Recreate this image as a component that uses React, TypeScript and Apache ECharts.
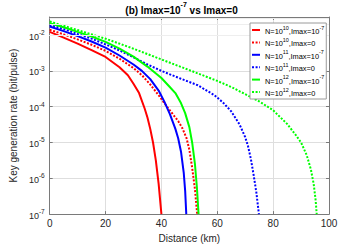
import React, { useEffect, useRef } from 'react';
import * as echarts from 'echarts';

// ---------- data ----------
const xTicks = [0, 20, 40, 60, 80, 100];
const yMin = 1e-7;
const yMax = 0.032;

const seriesNames = [
  'N=10^10,Imax=10^-7',
  'N=10^10,Imax=0',
  'N=10^11,Imax=10^-7',
  'N=10^11,Imax=0',
  'N=10^12,Imax=10^-7',
  'N=10^12,Imax=0',
];
const seriesColors = ['#ff0000', '#ff0000', '#0000ff', '#0000ff', '#00ff00', '#00ff00'];
const seriesDotted = [false, true, false, true, false, true];

const redSolidD = [0, 5, 10, 15, 20, 25, 28, 30, 32, 34, 35, 36, 37, 38, 39, 40];
const redSolidV = [1.23e-2, 8.51e-3, 5.75e-3, 3.8e-3, 2.45e-3, 1.26e-3, 7.59e-4, 4.37e-4, 2.4e-4, 8.91e-5, 5.01e-5, 2.4e-5, 1.0e-5, 3.16e-6, 7.08e-7, 1.0e-7];

const redDotD = [0, 5, 10, 15, 20, 25, 30, 33, 36, 39, 42, 44, 46, 47.5, 49, 50, 51, 52, 52.8];
const redDotV = [1.41e-2, 1.05e-2, 7.59e-3, 5.37e-3, 3.63e-3, 2.19e-3, 1.2e-3, 7.59e-4, 4.17e-4, 2.09e-4, 1.0e-4, 6.31e-5, 3.98e-5, 2.51e-5, 1.32e-5, 6.31e-6, 2.0e-6, 5.01e-7, 1.0e-7];

const blueSolidD = [0, 5, 10, 15, 20, 25, 30, 33, 36, 39, 41, 43, 45, 46, 47, 48, 48.5, 48.9];
const blueSolidV = [1.74e-2, 1.29e-2, 9.33e-3, 6.61e-3, 4.47e-3, 2.69e-3, 1.51e-3, 1.0e-3, 5.89e-4, 2.82e-4, 1.41e-4, 6.31e-5, 2.4e-5, 1.32e-5, 5.62e-6, 1.41e-6, 4.47e-7, 1.0e-7];

const blueDotD = [0, 5, 10, 15, 20, 25, 30, 35, 40, 47, 53, 59, 62, 65, 68, 70, 71, 72, 73, 74, 74.9];
const blueDotV = [1.95e-2, 1.48e-2, 1.07e-2, 7.94e-3, 5.5e-3, 3.72e-3, 2.4e-3, 1.51e-3, 1.0e-3, 6.03e-4, 3.98e-4, 2.09e-4, 1.32e-4, 7.41e-5, 3.16e-5, 1.41e-5, 7.94e-6, 3.55e-6, 1.26e-6, 3.98e-7, 1.0e-7];

const greenSolidD = [0, 5, 10, 15, 20, 25, 30, 35, 40, 43, 45, 47, 48.5, 50, 51, 52, 52.7, 53.3];
const greenSolidV = [2.14e-2, 1.66e-2, 1.23e-2, 9.12e-3, 6.46e-3, 4.17e-3, 2.51e-3, 1.32e-3, 6.31e-4, 3.55e-4, 2.4e-4, 1.26e-4, 6.61e-5, 2.69e-5, 1.0e-5, 2.51e-6, 5.62e-7, 1.0e-7];

const greenDotD = [0, 10, 20, 30, 40, 50, 60, 65, 70, 75, 80, 85, 88, 90, 92, 93.5, 94.5, 95.2, 95.6];
const greenDotV = [2.4e-2, 1.38e-2, 7.94e-3, 4.17e-3, 2.09e-3, 1.05e-3, 5.25e-4, 3.55e-4, 2.24e-4, 1.41e-4, 7.94e-5, 3.31e-5, 1.66e-5, 1.0e-5, 4.47e-6, 1.78e-6, 7.08e-7, 2.51e-7, 1.0e-7];

const seriesD = [redSolidD, redDotD, blueSolidD, blueDotD, greenSolidD, greenDotD];
const seriesV = [redSolidV, redDotV, blueSolidV, blueDotV, greenSolidV, greenDotV];

const FONT = 'Liberation Sans';

function toRich(name: string): string {
  const parts = name.split(/\^(-?\d+)/);
  return parts
    .map((p, i) => (i % 2 ? `{s|${p}}` : p ? `{t|${p}}` : ''))
    .join('');
}

export default function App() {
  const ref = useRef<HTMLDivElement>(null);
  useEffect(() => {
    const chart = echarts.init(ref.current!, null, { renderer: 'svg' });

    const minorGrid: number[] = [];
    for (let e = -7; e <= -2; e++) {
      for (let m = 2; m <= 9; m++) {
        const v = m * Math.pow(10, e);
        if (v < yMax) minorGrid.push(v);
      }
    }

    const axisColor = '#7a7a7a';
    const labelColor = '#262626';

    const series: any[] = [
      {
        type: 'line',
        name: '__grid',
        data: [],
        silent: true,
        z: 0,
        markLine: {
          silent: true,
          symbol: 'none',
          label: { show: false },
          lineStyle: { color: '#eeeeee', type: 'solid', width: 1 },
          data: minorGrid.map((v) => ({ yAxis: v })),
          animation: false,
        },
      },
    ];
    seriesNames.forEach((name, i) => {
      series.push({
        type: 'line',
        name,
        data: seriesD[i].map((d, j) => [d, seriesV[i][j]]),
        showSymbol: false,
        symbol: 'none',
        z: 3,
        lineStyle: {
          color: seriesColors[i],
          width: 2,
          type: seriesDotted[i] ? [2, 1.6] : 'solid',
        },
        itemStyle: { color: seriesColors[i], opacity: 0 },
      });
    });

    const yLabelFmt = (v: number) => {
      const l = Math.log10(v);
      const e = Math.round(l);
      if (Math.abs(l - e) > 0.01) return '';
      return `{b|10}{s|${e}}`;
    };

    const option: any = {
      animation: false,
      textStyle: { fontFamily: FONT },
      title: {
        text: '{t|(b) Imax=10}{s|-7}{t| vs Imax=0}',
        left: 'center',
        top: 0,
        padding: [1, 0, 0, 16],
        textStyle: {
          rich: {
            t: { fontFamily: FONT, fontSize: 10, fontWeight: 'bold', color: '#000', lineHeight: 14, verticalAlign: 'bottom' },
            s: { fontFamily: FONT, fontSize: 7, fontWeight: 'bold', color: '#000', lineHeight: 7, verticalAlign: 'top' },
          },
        },
      },
      grid: { left: 47, right: 34, top: 17, bottom: 30, containLabel: false },
      legend: {
        data: seriesNames,
        orient: 'vertical',
        left: 250,
        top: 23,
        itemWidth: 8,
        itemHeight: 10,
        itemGap: 2.4,
        padding: [2, 2, 2, 1],
        backgroundColor: '#ffffff',
        borderColor: '#9a9a9a',
        borderWidth: 1,
        borderRadius: 0,
        itemStyle: { opacity: 0 },
        formatter: (name: string) => toRich(name),
        textStyle: {
          fontFamily: FONT,
          fontSize: 7.4,
          color: '#000',
          rich: {
            t: { fontFamily: FONT, fontSize: 7.4, color: '#000', lineHeight: 10, verticalAlign: 'bottom' },
            s: { fontFamily: FONT, fontSize: 5.4, color: '#000', lineHeight: 5, verticalAlign: 'top' },
          },
        },
        z: 10,
      },
      xAxis: [
        {
          type: 'value',
          min: xTicks[0],
          max: xTicks[xTicks.length - 1],
          interval: xTicks[1] - xTicks[0],
          name: 'Distance (km)',
          nameLocation: 'middle',
          nameGap: 17,
          nameTextStyle: { fontFamily: FONT, fontSize: 10, color: labelColor },
          axisLine: { show: true, onZero: false, lineStyle: { color: axisColor, width: 1 } },
          axisTick: { show: true, inside: true, length: 3, lineStyle: { color: axisColor } },
          axisLabel: { fontFamily: FONT, fontSize: 10, color: labelColor, margin: 4 },
          splitLine: { show: true, lineStyle: { color: '#dedede', width: 1 } },
        },
        {
          type: 'value',
          position: 'top',
          min: xTicks[0],
          max: xTicks[xTicks.length - 1],
          interval: xTicks[1] - xTicks[0],
          axisLine: { show: true, onZero: false, lineStyle: { color: axisColor, width: 1 } },
          axisTick: { show: true, inside: true, length: 3, lineStyle: { color: axisColor } },
          axisLabel: { show: false },
          splitLine: { show: false },
        },
      ],
      yAxis: [
        {
          type: 'log',
          logBase: 10,
          min: yMin,
          max: yMax,
          name: 'Key generation rate (bit/pulse)',
          nameLocation: 'middle',
          nameGap: 21,
          nameTextStyle: { fontFamily: FONT, fontSize: 10, color: labelColor },
          axisLine: { show: true, onZero: false, lineStyle: { color: axisColor, width: 1 } },
          axisTick: { show: true, inside: true, length: 3, lineStyle: { color: axisColor } },
          axisLabel: {
            formatter: yLabelFmt,
            margin: 5,
            color: labelColor,
            rich: {
              b: { fontFamily: FONT, fontSize: 9, color: labelColor, lineHeight: 12, verticalAlign: 'bottom' },
              s: { fontFamily: FONT, fontSize: 6.5, color: labelColor, lineHeight: 6, verticalAlign: 'top' },
            },
          },
          splitLine: { show: true, lineStyle: { color: '#dedede', width: 1 } },
        },
        {
          type: 'log',
          logBase: 10,
          position: 'right',
          min: yMin,
          max: yMax,
          axisLine: { show: true, onZero: false, lineStyle: { color: axisColor, width: 1 } },
          axisTick: { show: true, inside: true, length: 3, lineStyle: { color: axisColor } },
          axisLabel: { show: false },
          splitLine: { show: false },
        },
      ],
      series,
    };

    chart.setOption(option);
    return () => chart.dispose();
  }, []);

  return (
    <div
      ref={ref}
      style={{ position: 'fixed', left: 0, top: 0, width: 363, height: 248, background: '#fff' }}
    />
  );
}
